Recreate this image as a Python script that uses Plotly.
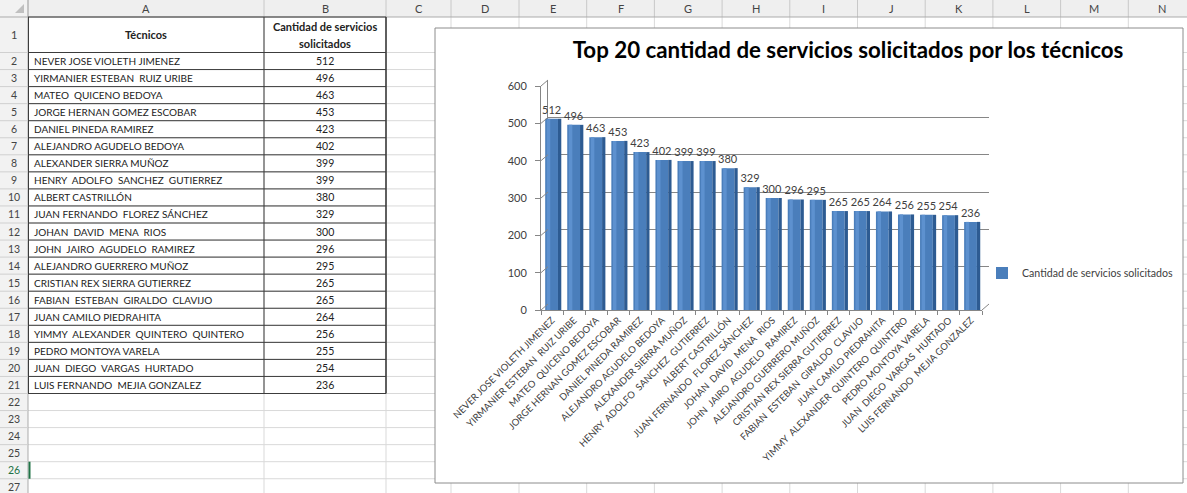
import plotly.graph_objects as go

# ---------------- data ----------------
tecnicos = [
    "NEVER JOSE VIOLETH JIMENEZ", "YIRMANIER ESTEBAN  RUIZ URIBE", "MATEO  QUICENO BEDOYA",
    "JORGE HERNAN GOMEZ ESCOBAR", "DANIEL PINEDA RAMIREZ", "ALEJANDRO AGUDELO BEDOYA",
    "ALEXANDER SIERRA MUÑOZ", "HENRY  ADOLFO  SANCHEZ  GUTIERREZ", "ALBERT CASTRILLÓN",
    "JUAN FERNANDO  FLOREZ SÁNCHEZ", "JOHAN  DAVID  MENA  RIOS", "JOHN  JAIRO  AGUDELO  RAMIREZ",
    "ALEJANDRO GUERRERO MUÑOZ", "CRISTIAN REX SIERRA GUTIERREZ", "FABIAN  ESTEBAN  GIRALDO  CLAVIJO",
    "JUAN CAMILO PIEDRAHITA", "YIMMY  ALEXANDER  QUINTERO  QUINTERO", "PEDRO MONTOYA VARELA",
    "JUAN  DIEGO  VARGAS  HURTADO", "LUIS FERNANDO  MEJIA GONZALEZ",
]
servicios = [512, 496, 463, 453, 423, 402, 399, 399, 380, 329, 300, 296, 295, 265, 265, 264, 256, 255, 254, 236]
y_ticks = [0, 100, 200, 300, 400, 500, 600]
column_letters = ["A", "B", "C", "D", "E", "F", "G", "H", "I", "J", "K", "L", "M", "N"]
header_tecnicos = "Técnicos"
header_cantidad = ["Cantidad de servicios", "solicitados"]
chart_title = "Top 20 cantidad de servicios solicitados por los técnicos"
series_name = "Cantidad de servicios solicitados"

# ---------------- geometry helpers (pixels -> paper) ----------------
W, H = 1187, 493
def px(x):
    return x / W
def py(y):
    return 1 - y / H

FONT = "Lato, 'Open Sans', sans-serif"
TXT = "#404040"
cats = [t.replace("  ", " \u00a0") for t in tecnicos]

# sheet layout
col_edges = [0, 28, 264, 386, 451, 519, 586.7, 654.4, 722.1, 789.8, 857.5, 925.2, 992.9, 1060.6, 1128.3, 1196]
HEAD_B = 17
ROW1_B = 52.5
PITCH = 17.05
def row_top(k):
    return ROW1_B + (k - 2) * PITCH
n_rows = 27

shapes = []
annotations = []

def line(x0, y0, x1, y1, color, width=1, layer="below"):
    shapes.append(dict(type="line", xref="paper", yref="paper", x0=px(x0), y0=py(y0), x1=px(x1), y1=py(y1),
                       line=dict(color=color, width=width), layer=layer))

def rect(x0, y0, x1, y1, fill, lcolor=None, lwidth=0):
    shapes.append(dict(type="rect", xref="paper", yref="paper", x0=px(x0), y0=py(y0), x1=px(x1), y1=py(y1),
                       fillcolor=fill, line=dict(color=lcolor or fill, width=lwidth), layer="below"))

# header backgrounds
rect(0, 0, W, HEAD_B, "#efefef")
rect(0, 0, 28, H, "#f2f2f2")
# light grid lines
for xe in col_edges[2:]:
    line(xe, HEAD_B, xe, H, "#d9d9d9")
line(28, ROW1_B, W, ROW1_B, "#d9d9d9")
for k in range(2, n_rows + 1):
    line(28, row_top(k) + PITCH, W, row_top(k) + PITCH, "#d9d9d9")
# header separators
for xe in col_edges[1:]:
    line(xe, 0, xe, HEAD_B, "#c8c8c8")
line(0, HEAD_B, W, HEAD_B, "#ababab")
line(28, 0, 28, H, "#ababab")
line(0, ROW1_B, 28, ROW1_B, "#d0d0d0")
for k in range(2, n_rows + 1):
    line(0, row_top(k) + PITCH, 28, row_top(k) + PITCH, "#d0d0d0")
# corner triangle
shapes.append(dict(type="path", xref="paper", yref="paper",
                   path=f"M {px(24)} {py(4)} L {px(24)} {py(13)} L {px(15)} {py(13)} Z",
                   fillcolor="#c0c0c0", line=dict(width=0), layer="below"))

# table borders (A1:B21)
n_data = len(tecnicos)
tbl_bottom = row_top(n_data + 1) + PITCH
line(28, HEAD_B, 386, HEAD_B, "#3c3c3c")
line(28, ROW1_B, 386, ROW1_B, "#3c3c3c")
for k in range(2, n_data + 2):
    line(28, row_top(k) + PITCH, 386, row_top(k) + PITCH, "#3c3c3c")
line(28.5, HEAD_B, 28.5, tbl_bottom, "#3c3c3c")
line(264, HEAD_B, 264, tbl_bottom, "#3c3c3c")
line(386, HEAD_B, 386, tbl_bottom, "#3c3c3c", 1.6)
# active cell marker (A26)
line(29.5, row_top(26), 29.5, row_top(26) + PITCH, "#217346", 2)

# chart area box
rect(435, 28, 1183, 483, "#ffffff", "#8c8c8c", 1)

# column letters
for i, letter in enumerate(column_letters):
    xc = (col_edges[i + 1] + col_edges[i + 2]) / 2
    annotations.append(dict(x=px(xc), y=py(8.5), xref="paper", yref="paper", text=letter, showarrow=False,
                            font=dict(family=FONT, size=11, color="#444444"), xanchor="center", yanchor="middle"))
# row numbers
annotations.append(dict(x=px(14), y=py((HEAD_B + ROW1_B) / 2), xref="paper", yref="paper", text="1", showarrow=False,
                        font=dict(family=FONT, size=11, color="#444444"), xanchor="center", yanchor="middle"))
for k in range(2, n_rows + 1):
    yc = row_top(k) + PITCH / 2
    annotations.append(dict(x=px(14), y=py(yc), xref="paper", yref="paper", text=str(k), showarrow=False,
                            font=dict(family=FONT, size=10.5, color="#217346" if k == 26 else "#444444"),
                            xanchor="center", yanchor="middle"))
# table headers
annotations.append(dict(x=px(146), y=py((HEAD_B + ROW1_B) / 2), xref="paper", yref="paper", text="<b>" + header_tecnicos + "</b>",
                        showarrow=False, font=dict(family=FONT, size=11, color="#222222"), xanchor="center", yanchor="middle"))
annotations.append(dict(x=px(325), y=py(26.5), xref="paper", yref="paper", text="<b>" + header_cantidad[0] + "</b>",
                        showarrow=False, font=dict(family=FONT, size=11, color="#222222"), xanchor="center", yanchor="middle"))
annotations.append(dict(x=px(325), y=py(44), xref="paper", yref="paper", text="<b>" + header_cantidad[1] + "</b>",
                        showarrow=False, font=dict(family=FONT, size=11, color="#222222"), xanchor="center", yanchor="middle"))
# table body
for i, (name, val) in enumerate(zip(tecnicos, servicios)):
    yc = row_top(i + 2) + PITCH / 2
    annotations.append(dict(x=px(32), y=py(yc), xref="paper", yref="paper", text=name.replace("  ", " \u00a0"),
                            showarrow=False, font=dict(family=FONT, size=10, color="#222222"), xanchor="left", yanchor="middle"))
    annotations.append(dict(x=px(325), y=py(yc), xref="paper", yref="paper", text=str(val),
                            showarrow=False, font=dict(family=FONT, size=10.5, color="#222222"), xanchor="center", yanchor="middle"))

# ---------------- chart ----------------
FX0, FX1 = 541, 982   # front x extent
FY0, FY1 = 310, 86    # front y: value 0 -> 310, 600 -> 86
DX, DY = 7, -6        # depth offset

fig = go.Figure()
# back wall subplot holder (x/y = back wall with gridlines, drawn first)
fig.add_trace(go.Scatter(x=cats, y=servicios, xaxis="x", yaxis="y", mode="markers",
                         marker=dict(opacity=0), showlegend=False, hoverinfo="skip"))
# bars on the front subplot (x2/y2)
fig.add_trace(go.Bar(x=cats, y=servicios, width=0.58, offset=-0.31, name=series_name,
                     xaxis="x2", yaxis="y2",
                     marker=dict(color="#4a7ebb", line=dict(width=0)),
                     text=servicios, textposition="outside", cliponaxis=False, constraintext="none",
                     textfont=dict(family=FONT, size=11, color=TXT), hoverinfo="x+y"))
fig.add_trace(go.Bar(x=cats, y=servicios, width=0.16, offset=-0.24, showlegend=False, hoverinfo="skip",
                     xaxis="x2", yaxis="y2", marker=dict(color="#5d91cf", line=dict(width=0))))
fig.add_trace(go.Bar(x=cats, y=servicios, width=0.15, offset=0.27, showlegend=False, hoverinfo="skip",
                     xaxis="x2", yaxis="y2", marker=dict(color="#2d5b92", line=dict(width=0))))

# 3D wall connectors
def fy(v):
    return FY0 + (FY1 - FY0) * v / 600
for v in y_ticks:
    line(FX0, fy(v), FX0 + DX, fy(v) + DY, "#868686", layer="above")
line(FX1, FY0, FX1 + DX, FY0 + DY, "#868686", layer="above")

fig.update_layout(
    width=W, height=H,
    margin=dict(l=0, r=0, t=0, b=0, autoexpand=False),
    paper_bgcolor="#ffffff", plot_bgcolor="rgba(0,0,0,0)",
    barmode="overlay",
    font=dict(family=FONT, color=TXT),
    title=dict(text="<b>" + chart_title + "</b>", x=px(848), y=py(50), xref="paper", yref="paper",
               xanchor="center", yanchor="middle", font=dict(family=FONT, size=22.3, color="#000000")),
    xaxis=dict(domain=[px(FX0 + DX), px(FX1 + DX)], anchor="y", type="category", range=[-0.5, len(cats) - 0.5],
               showticklabels=False, showline=False, showgrid=False, zeroline=False, ticks="", automargin=False),
    yaxis=dict(domain=[py(FY0 + DY), py(FY1 + DY)], anchor="x", range=[0, 600], tickvals=y_ticks,
               showticklabels=False, showline=True, linecolor="#868686", showgrid=True, gridcolor="#868686",
               gridwidth=1, zeroline=False, ticks="", automargin=False),
    xaxis2=dict(domain=[px(FX0), px(FX1)], anchor="y2", type="category", range=[-0.5, len(cats) - 0.5],
                showline=True, linecolor="#868686", linewidth=1, ticks="outside", ticklen=4, tickcolor="#868686",
                tickson="boundaries", tickangle=-45, tickfont=dict(family=FONT, size=9.5, color=TXT),
                showgrid=False, zeroline=False, automargin=False),
    yaxis2=dict(domain=[py(FY0), py(FY1)], anchor="x2", range=[0, 600], tickvals=y_ticks,
                showline=True, linecolor="#868686", ticks="outside", ticklen=5, tickcolor="#868686",
                ticklabelstandoff=6,
                tickfont=dict(family=FONT, size=11, color=TXT), showgrid=False, zeroline=False, automargin=False),
    showlegend=True,
    legend=dict(x=px(982), y=py(273), xanchor="left", yanchor="middle", bgcolor="rgba(0,0,0,0)",
                font=dict(family=FONT, size=10.6, color=TXT)),
    shapes=shapes,
    annotations=annotations,
)

fig.write_html("out.html")
